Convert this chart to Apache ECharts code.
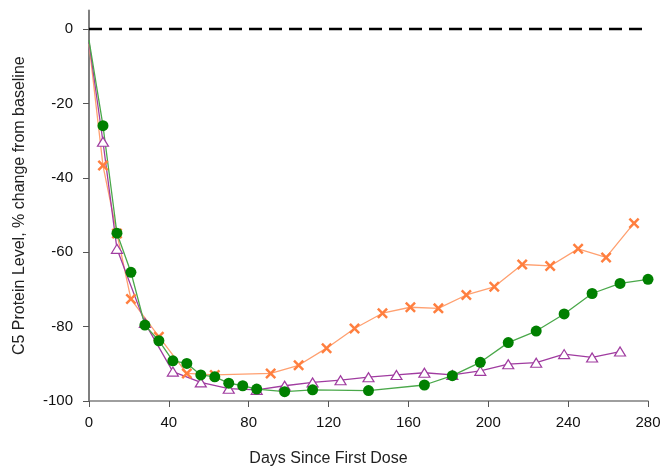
<!DOCTYPE html>
<html>
<head>
<meta charset="utf-8">
<script src="https://cdn.jsdelivr.net/npm/echarts@6/dist/echarts.min.js"></script>
<style>html,body{margin:0;padding:0;background:#fff}#c{width:661px;height:468px}</style>
</head>
<body>
<div id="c"></div>
<script>
var xTicks = [0, 40, 80, 120, 160, 200, 240, 280];
var yTicks = [-100, -80, -60, -40, -20, 0];

var orangeDays = [0, 7, 14, 21, 35, 49, 63, 91, 105, 119, 133, 147, 161, 175, 189, 203, 217, 231, 245, 259, 273];
var orangeVals = [-4, -36.7, -55, -72.6, -82.7, -92.6, -93, -92.6, -90.4, -85.8, -80.5, -76.4, -74.8, -75.1, -71.5, -69.3, -63.3, -63.7, -59.1, -61.4, -52.2];

var purpleDays = [0, 7, 14, 28, 42, 56, 70, 84, 98, 112, 126, 140, 154, 168, 182, 196, 210, 224, 238, 252, 266];
var purpleVals = [-3.5, -30.3, -59.1, -79, -92.1, -95.0, -96.7, -97.0, -95.9, -95.0, -94.4, -93.6, -93.0, -92.4, -93.0, -91.9, -90.1, -89.7, -87.4, -88.3, -86.7];

var greenDays = [0, 7, 14, 21, 28, 35, 42, 49, 56, 63, 70, 77, 84, 98, 112, 140, 168, 182, 196, 210, 224, 238, 252, 266, 280];
var greenVals = [-3, -26, -54.9, -65.4, -79.6, -83.8, -89.2, -89.9, -93.0, -93.5, -95.2, -95.9, -96.8, -97.5, -97.0, -97.2, -95.7, -93.2, -89.6, -84.3, -81.2, -76.6, -71.1, -68.4, -67.3];

var baselineDays = [0, 280];
var baselineVals = [0, 0];

// the day-0 starting value is drawn as line only (no marker), as in the source
function pairs(xs, ys) {
  return xs.map(function (x, i) {
    return x === 0 ? {value: [x, ys[i]], symbol: 'none'} : [x, ys[i]];
  });
}

var crossPath = 'path://M1.6,0L5,3.4L8.4,0L10,1.6L6.6,5L10,8.4L8.4,10L5,6.6L1.6,10L0,8.4L3.4,5L0,1.6Z';
var font = 'Liberation Sans, Arial, sans-serif';

var chart = echarts.init(document.getElementById('c'), null, {renderer: 'canvas'});
chart.setOption({
  animation: false,
  backgroundColor: '#fff',
  grid: {left: 89, right: 13, top: 10.4, bottom: 67, containLabel: false, outerBoundsMode: 'none'},
  xAxis: {
    type: 'value', min: 0, max: 280, interval: 40,
    name: 'Days Since First Dose', nameLocation: 'middle', nameGap: 50,
    nameTextStyle: {fontFamily: font, fontSize: 16, color: '#222', padding: [0, 80, 0, 0]},
    axisLine: {onZero: false, lineStyle: {color: '#7f7f7f', width: 1.5}},
    axisTick: {show: true, length: 6, lineStyle: {color: '#555'}, customValues: xTicks},
    axisLabel: {fontFamily: font, fontSize: 15, color: '#111', margin: 14, customValues: xTicks},
    splitLine: {show: false}
  },
  yAxis: {
    type: 'value', min: -100, max: 5, interval: 20,
    name: 'C5 Protein Level, % change from baseline', nameLocation: 'middle', nameGap: 61,
    nameTextStyle: {fontFamily: font, fontSize: 16, color: '#222'},
    axisLine: {show: true, onZero: false, lineStyle: {color: '#7f7f7f', width: 2}},
    axisTick: {show: true, length: 6, lineStyle: {color: '#555'}, customValues: yTicks},
    axisLabel: {fontFamily: font, fontSize: 15, color: '#111', margin: 16, customValues: yTicks},
    splitLine: {show: false}
  },
  series: [
    {
      name: 'baseline', type: 'line', data: [[baselineDays[0], baselineVals[0]], [baselineDays[1], baselineVals[1]]],
      symbol: 'none', silent: true,
      lineStyle: {color: '#000', width: 2.5, type: [13, 7]}
    },
    {
      name: 'orange', type: 'line', data: pairs(orangeDays, orangeVals),
      symbol: crossPath, symbolSize: 11, showAllSymbol: true,
      itemStyle: {color: '#ff7f3f'},
      lineStyle: {color: '#ffa070', width: 1.3}
    },
    {
      name: 'purple', type: 'line', data: pairs(purpleDays, purpleVals),
      symbol: 'triangle', symbolSize: [11, 9], showAllSymbol: true,
      itemStyle: {color: '#fff', borderColor: '#a03ca0', borderWidth: 1.2},
      lineStyle: {color: '#a03ca0', width: 1.3}
    },
    {
      name: 'green', type: 'line', data: pairs(greenDays, greenVals),
      symbol: 'circle', symbolSize: 11, showAllSymbol: true,
      itemStyle: {color: '#008000'},
      lineStyle: {color: '#4aa84a', width: 1.3}
    }
  ]
});
</script>
</body>
</html>
